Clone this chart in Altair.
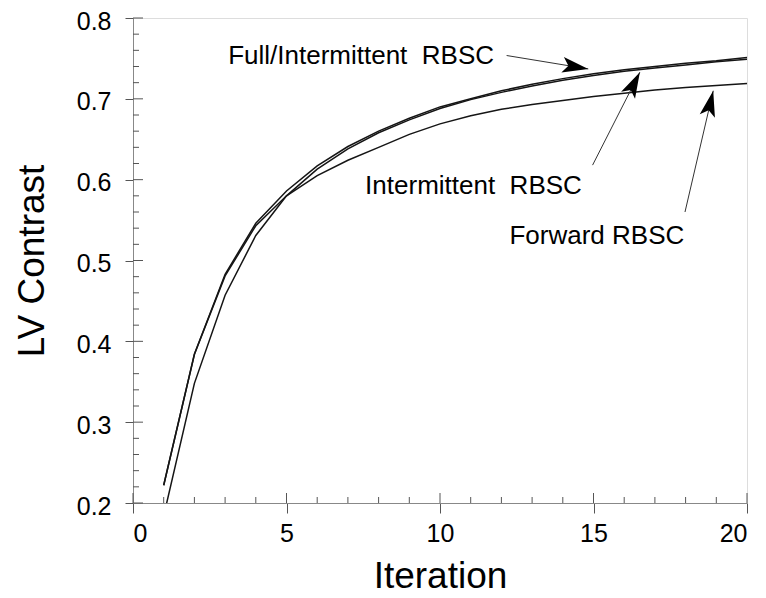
import math
import altair as alt
import pandas as pd

# ---------------- data ----------------
iterations = list(range(1, 21))
full_intermittent = [0.222, 0.384, 0.483, 0.546, 0.586, 0.617, 0.641, 0.660, 0.676, 0.690,
                     0.700, 0.710, 0.718, 0.725, 0.731, 0.736, 0.740, 0.744, 0.747, 0.751]
intermittent = [0.184, 0.348, 0.457, 0.531, 0.580, 0.613, 0.638, 0.658, 0.674, 0.688,
                0.699, 0.708, 0.716, 0.723, 0.729, 0.734, 0.738, 0.742, 0.746, 0.749]
forward = [0.222, 0.384, 0.481, 0.543, 0.580, 0.605, 0.624, 0.640, 0.656, 0.669,
           0.679, 0.687, 0.693, 0.698, 0.703, 0.707, 0.711, 0.714, 0.7165, 0.719]

x_major = [0, 5, 10, 15, 20]
x_minor = [v for v in range(0, 21) if v % 5 != 0]
y_major = [0.2, 0.3, 0.4, 0.5, 0.6, 0.7, 0.8]
y_minor = [round(0.2 + 0.02 * i, 2) for i in range(31) if i % 5 != 0]

label_texts = ["Full/Intermittent\u00a0\u00a0RBSC", "Intermittent\u00a0\u00a0RBSC", "Forward RBSC"]
label_x = [7.43, 11.09, 15.11]
label_y = [0.7428, 0.5827, 0.521]

arrow_x0 = [12.17, 14.97, 17.98]
arrow_y0 = [0.7536, 0.618, 0.560]
arrow_x1 = [14.83, 16.51, 18.90]
arrow_y1 = [0.737, 0.733, 0.710]

# ---------------- layout ----------------
W, H = 614, 485
FONT = "Liberation Sans"
XDOM, YDOM = [0, 20], [0.2, 0.8]

rows = []
for name, vals in [("Full/Intermittent RBSC", full_intermittent),
                   ("Intermittent RBSC", intermittent),
                   ("Forward RBSC", forward)]:
    for it, v in zip(iterations, vals):
        rows.append({"iteration": it, "value": v, "series": name})
df = pd.DataFrame(rows)

px_per_x = W / (XDOM[1] - XDOM[0])
px_per_y = H / (YDOM[1] - YDOM[0])
angles = []
for a, b, c, d in zip(arrow_x0, arrow_y0, arrow_x1, arrow_y1):
    dx = (c - a) * px_per_x
    dy = -(d - b) * px_per_y
    angles.append(math.degrees(math.atan2(dx, -dy)))
arrows = pd.DataFrame({"x0": arrow_x0, "y0": arrow_y0, "x1": arrow_x1, "y1": arrow_y1, "angle": angles})
labels = pd.DataFrame({"text": label_texts, "x": label_x, "y": label_y})

xscale = alt.Scale(domain=XDOM, nice=False, zero=False)
yscale = alt.Scale(domain=YDOM, nice=False, zero=False)

xaxis = alt.Axis(title="Iteration", values=x_major, format="d", grid=False,
                 tickSize=10, tickColor="#555", tickWidth=1, domainColor="#888",
                 labelFont=FONT, labelFontSize=25, labelColor="black", labelPadding=8,
                 titleFont=FONT, titleFontSize=37, titleFontWeight="normal", titleColor="black",
                 titleY=73, titleBaseline="middle")
yaxis = alt.Axis(title="LV Contrast", values=y_major, format=".1f", grid=False,
                 tickSize=8, tickColor="#555", tickWidth=1, domainColor="#888",
                 labelFont=FONT, labelFontSize=25, labelColor="black", labelPadding=14,
                 labelOffset=3,
                 titleFont=FONT, titleFontSize=37, titleFontWeight="normal", titleColor="black",
                 titleX=-101, titleY=H / 2, titleAngle=-90, titleAlign="center",
                 titleBaseline="middle")

lines = alt.Chart(df).mark_line(clip=True, color="#151515", strokeWidth=1.5).encode(
    x=alt.X("iteration:Q", scale=xscale, axis=xaxis),
    y=alt.Y("value:Q", scale=yscale, axis=yaxis),
    detail="series:N",
)

# inward ticks
xmaj_in = alt.Chart(pd.DataFrame({"t": x_major})).mark_rule(color="#555", strokeWidth=1).encode(
    x=alt.X("t:Q", scale=xscale), y=alt.value(H), y2=alt.value(H - 10))
xmin_in = alt.Chart(pd.DataFrame({"t": x_minor})).mark_rule(color="#555", strokeWidth=1).encode(
    x=alt.X("t:Q", scale=xscale), y=alt.value(H), y2=alt.value(H - 6))
ymaj_in = alt.Chart(pd.DataFrame({"t": y_major})).mark_rule(color="#555", strokeWidth=1).encode(
    y=alt.Y("t:Q", scale=yscale), x=alt.value(0), x2=alt.value(10))
ymin_in = alt.Chart(pd.DataFrame({"t": y_minor})).mark_rule(color="#555", strokeWidth=1).encode(
    y=alt.Y("t:Q", scale=yscale), x=alt.value(0), x2=alt.value(6))

texts = alt.Chart(labels).mark_text(font=FONT, fontSize=26, color="black",
                                    align="center", baseline="alphabetic").encode(
    x=alt.X("x:Q", scale=xscale), y=alt.Y("y:Q", scale=yscale), text="text:N")

shafts = alt.Chart(arrows).mark_rule(color="#333", strokeWidth=1).encode(
    x=alt.X("x0:Q", scale=xscale), y=alt.Y("y0:Q", scale=yscale),
    x2="x1:Q", y2="y1:Q")
heads = alt.Chart(arrows).mark_point(
    shape="M0,0 L0.6,2 L0,1.55 L-0.6,2 Z", filled=True, size=676, color="black",
    opacity=1, strokeWidth=0).encode(
    x=alt.X("x1:Q", scale=xscale), y=alt.Y("y1:Q", scale=yscale),
    angle=alt.Angle("angle:Q", scale=None))

chart = alt.layer(xmaj_in, xmin_in, ymaj_in, ymin_in, lines, shafts, heads, texts).properties(
    width=W, height=H,
    autosize=alt.AutoSizeParams(type="none"),
    padding={"left": 125, "top": 10, "right": 11, "bottom": 95},
).configure_view(stroke="#888", strokeWidth=1).configure(background="white")

chart.save("out.html", embed_options={"renderer": "svg", "actions": False})
